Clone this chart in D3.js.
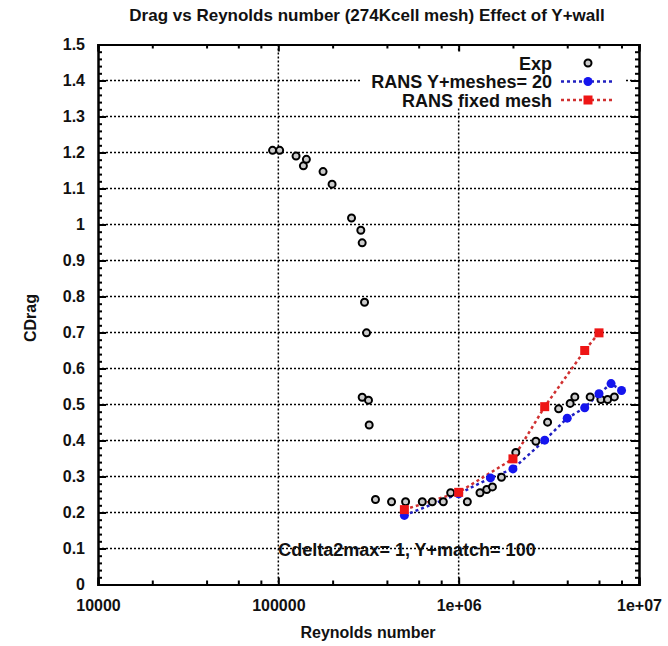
<!DOCTYPE html>
<html>
<head>
<meta charset="utf-8">
<title>Drag vs Reynolds number</title>
<script src="https://cdn.jsdelivr.net/npm/d3@7/dist/d3.min.js"></script>
<style>
body { margin: 0; background: #fff; }
text { font-family: "Liberation Sans", Arial, sans-serif; font-weight: bold; fill: #111; }
.grid line { stroke: #000; stroke-width: 1.5; stroke-dasharray: 2,2; }
.axis path { stroke: #000; stroke-width: 2; }
.axis line { stroke: #000; stroke-width: 2; }
</style>
</head>
<body>
<script>
// experimental points
var expRe = [92900, 101700, 125400, 137700, 143100, 177000, 198600, 254600, 286700, 291700,
             300600, 308400, 291700, 316200, 319000, 345700, 424400, 507800, 628400, 714000,
             822000, 903000, 1117000, 1313000, 1431000, 1539000, 1727000, 2074000, 2680000, 3112000,
             3583000, 4152000, 4407000, 5360000, 6146000, 6700000, 7300000];
var expCd = [1.206, 1.206, 1.190, 1.163, 1.181, 1.147, 1.112, 1.018, 0.984, 0.949,
             0.784, 0.699, 0.520, 0.512, 0.443, 0.236, 0.230, 0.230, 0.230, 0.230,
             0.230, 0.255, 0.230, 0.255, 0.264, 0.271, 0.298, 0.367, 0.398, 0.451,
             0.488, 0.503, 0.521, 0.521, 0.514, 0.514, 0.521];

// RANS, Y+ meshes = 20
var yplusRe = [5e5, 1e6, 1.5e6, 2e6, 3e6, 4e6, 5e6, 6e6, 7e6, 8e6];
var yplusCd = [0.192, 0.252, 0.296, 0.321, 0.401, 0.462, 0.491, 0.530, 0.558, 0.539];

// RANS, fixed mesh
var fixedRe = [5e5, 1e6, 2e6, 3e6, 5e6, 6e6];
var fixedCd = [0.208, 0.256, 0.349, 0.494, 0.650, 0.699];

var xTicks = [1e4, 1e5, 1e6, 1e7];
var xTickLabels = ["10000", "100000", "1e+06", "1e+07"];
var yTicks = [0, 0.1, 0.2, 0.3, 0.4, 0.5, 0.6, 0.7, 0.8, 0.9, 1, 1.1, 1.2, 1.3, 1.4, 1.5];
var yTickLabels = ["0", "0.1", "0.2", "0.3", "0.4", "0.5", "0.6", "0.7", "0.8", "0.9", "1", "1.1", "1.2", "1.3", "1.4", "1.5"];

var width = 668, height = 646;
var margin = {left: 98, right: 29, top: 44.5, bottom: 61.5};
var w = width - margin.left - margin.right,
    h = height - margin.top - margin.bottom;

var svg = d3.select("body").append("svg")
  .attr("width", width).attr("height", height)
  .style("background", "white");

var g = svg.append("g").attr("transform", "translate(" + margin.left + "," + margin.top + ")");

var x = d3.scaleLog().domain([1e4, 1e7]).range([0, w]);
var y = d3.scaleLinear().domain([0, 1.5]).range([h, 0]);

// minor ticks: 2,4,6,8 per decade on x, 0.02 on y
var xMinor = [];
[1e4, 1e5, 1e6].forEach(function(d) { [2, 4, 6, 8].forEach(function(m) { xMinor.push(d * m); }); });
var yMinor = d3.range(0, 75).map(function(i) { return i * 0.02; }).filter(function(v) {
  return Math.abs(v * 10 - Math.round(v * 10)) > 1e-6;
});

// grid
var grid = g.append("g").attr("class", "grid");
grid.selectAll(".hg").data(yTicks.slice(1, -1)).enter().append("line")
  .attr("x1", 0).attr("x2", w)
  .attr("y1", function(d) { return y(d); }).attr("y2", function(d) { return y(d); });
grid.selectAll(".vg").data(xTicks.slice(1, -1)).enter().append("line")
  .attr("y1", 0).attr("y2", h)
  .attr("x1", function(d) { return x(d); }).attr("x2", function(d) { return x(d); });

// key background hides the grid behind it
g.append("rect").attr("x", 362 - margin.left).attr("y", 51 - margin.top)
  .attr("width", 262).attr("height", 56).attr("fill", "white");

// axes, ticks pointing inward on all four sides
function addAxis(axis, tr) {
  var a = g.append("g").attr("class", "axis").attr("transform", tr).call(axis);
  return a;
}
var xb = addAxis(d3.axisBottom(x).tickValues(xTicks).tickSize(-7).tickPadding(15)
  .tickFormat(function(d, i) { return xTickLabels[i]; }), "translate(0," + h + ")");
xb.selectAll("text").style("font-size", "16px").attr("fill", "#111");
addAxis(d3.axisBottom(x).tickValues(xMinor).tickSize(-4).tickFormat(""), "translate(0," + h + ")");
addAxis(d3.axisTop(x).tickValues(xTicks).tickSize(-7).tickFormat(""), "translate(0,0)");
addAxis(d3.axisTop(x).tickValues(xMinor).tickSize(-4).tickFormat(""), "translate(0,0)");

var yl = addAxis(d3.axisLeft(y).tickValues(yTicks).tickSize(-8).tickPadding(13)
  .tickFormat(function(d, i) { return yTickLabels[i]; }), "translate(0,0)");
yl.selectAll("text").style("font-size", "16px").attr("fill", "#111");
addAxis(d3.axisLeft(y).tickValues(yMinor).tickSize(-4).tickFormat(""), "translate(0,0)");
addAxis(d3.axisRight(y).tickValues(yTicks).tickSize(-8).tickFormat(""), "translate(" + w + ",0)");
addAxis(d3.axisRight(y).tickValues(yMinor).tickSize(-4).tickFormat(""), "translate(" + w + ",0)");
g.selectAll(".axis .domain").attr("stroke-width", 2);

// series
function series(re, cd) { return re.map(function(d, i) { return [d, cd[i]]; }); }
var line = d3.line().x(function(d) { return x(d[0]); }).y(function(d) { return y(d[1]); });

var blue = series(yplusRe, yplusCd), red = series(fixedRe, fixedCd), exp = series(expRe, expCd);

g.append("path").datum(blue).attr("d", line).attr("fill", "none")
  .attr("stroke", "#2020c0").attr("stroke-width", 2.5).attr("stroke-dasharray", "3,3");
g.append("path").datum(red).attr("d", line).attr("fill", "none")
  .attr("stroke", "#d03030").attr("stroke-width", 2.5).attr("stroke-dasharray", "3,3");

g.selectAll(".exp").data(exp).enter().append("circle")
  .attr("cx", function(d) { return x(d[0]); }).attr("cy", function(d) { return y(d[1]); })
  .attr("r", 3.5).attr("fill", "#ccc").attr("stroke", "#000").attr("stroke-width", 2);

g.selectAll(".bm").data(blue).enter().append("circle")
  .attr("cx", function(d) { return x(d[0]); }).attr("cy", function(d) { return y(d[1]); })
  .attr("r", 4.5).attr("fill", "#1515ee");

g.selectAll(".rm").data(red).enter().append("rect")
  .attr("x", function(d) { return x(d[0]) - 4.5; }).attr("y", function(d) { return y(d[1]) - 4.5; })
  .attr("width", 9).attr("height", 9).attr("fill", "#ee1515");

// key
var keyNames = ["Exp", "RANS Y+meshes= 20", "RANS fixed mesh"];
var keyY = [63, 81.5, 100];
svg.selectAll(".kt").data(keyNames).enter().append("text")
  .attr("x", 552).attr("y", function(d, i) { return keyY[i] + 6.5; })
  .attr("text-anchor", "end").style("font-size", "18px").text(function(d) { return d; });
svg.append("circle").attr("cx", 588).attr("cy", keyY[0]).attr("r", 3.5)
  .attr("fill", "#ccc").attr("stroke", "#000").attr("stroke-width", 2);
svg.append("line").attr("x1", 561).attr("x2", 615).attr("y1", keyY[1]).attr("y2", keyY[1])
  .attr("stroke", "#2020c0").attr("stroke-width", 2.5).attr("stroke-dasharray", "3,3");
svg.append("circle").attr("cx", 588).attr("cy", keyY[1]).attr("r", 4.5).attr("fill", "#1515ee");
svg.append("line").attr("x1", 561).attr("x2", 615).attr("y1", keyY[2]).attr("y2", keyY[2])
  .attr("stroke", "#d03030").attr("stroke-width", 2.5).attr("stroke-dasharray", "3,3");
svg.append("rect").attr("x", 583.5).attr("y", keyY[2] - 4.5).attr("width", 9).attr("height", 9).attr("fill", "#ee1515");

// labels
svg.append("text").attr("x", 367).attr("y", 21).attr("text-anchor", "middle")
  .style("font-size", "17px").text("Drag vs Reynolds number (274Kcell mesh) Effect of Y+wall");
svg.append("text").attr("x", 368).attr("y", 638).attr("text-anchor", "middle")
  .style("font-size", "16px").text("Reynolds number");
svg.append("text").attr("transform", "translate(36,318) rotate(-90)").attr("text-anchor", "middle")
  .style("font-size", "16px").text("CDrag");
svg.append("text").attr("x", 407).attr("y", 556).attr("text-anchor", "middle")
  .style("font-size", "18px").text("Cdelta2max= 1, Y+match= 100");
</script>
</body>
</html>
